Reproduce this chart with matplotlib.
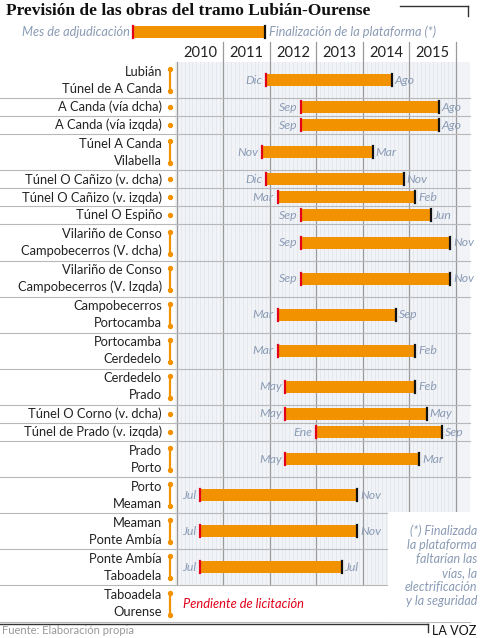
import matplotlib
matplotlib.use("Agg")
import matplotlib.pyplot as plt

labels = [("Lubián", "Túnel de A Canda"), ("A Canda (vía dcha)",), ("A Canda (vía izqda)",),
          ("Túnel A Canda", "Vilabella"), ("Túnel O Cañizo (v. dcha)",), ("Túnel O Cañizo (v. izqda)",),
          ("Túnel O Espiño",), ("Vilariño de Conso", "Campobecerros (V. dcha)"),
          ("Vilariño de Conso", "Campobecerros (V. Izqda)"), ("Campobecerros", "Portocamba"),
          ("Portocamba", "Cerdedelo"), ("Cerdedelo", "Prado"), ("Túnel O Corno (v. dcha)",),
          ("Túnel de Prado (v. izqda)",), ("Prado", "Porto"), ("Porto", "Meaman"),
          ("Meaman", "Ponte Ambía"), ("Ponte Ambía", "Taboadela"), ("Taboadela", "Ourense")]
start_year = [2011, 2012, 2012, 2011, 2011, 2012, 2012, 2012, 2012, 2012, 2012, 2012, 2012, 2013, 2012, 2010, 2010, 2010, None]
start_month = [12, 9, 9, 11, 12, 3, 9, 9, 9, 3, 3, 5, 5, 1, 5, 7, 7, 7, None]
end_year = [2014, 2015, 2015, 2014, 2014, 2015, 2015, 2015, 2015, 2014, 2015, 2015, 2015, 2015, 2015, 2013, 2013, 2013, None]
end_month = [8, 8, 8, 3, 11, 2, 6, 11, 11, 9, 2, 2, 5, 9, 3, 11, 11, 7, None]
years = [2010, 2011, 2012, 2013, 2014, 2015]
mnames = ["Ene", "Feb", "Mar", "Abr", "May", "Jun", "Jul", "Ago", "Sep", "Oct", "Nov", "Dic"]

ORANGE = "#f39200"; RED = "#e2001a"; GRAYTXT = "#8a9bb5"; LINE = "#b8b8b8"

fig = plt.figure(figsize=(4.8, 6.38), dpi=100)
ax = fig.add_axes([0, 0, 1, 1])
pxy = 46.5
ax.set_xlim(2010 - 177 / pxy, 2010 + (480 - 177) / pxy)
ax.set_ylim(638, 0)
ax.axis("off")
X = lambda px: 2010 + (px - 177) / pxy

top = 62; unit = 18.05
y = top
rows = []
for lab in labels:
    h = unit * (2 if len(lab) == 2 else 1)
    rows.append((y, y + h))
    y += h
grid_bottom = rows[-2][1]

ax.add_patch(plt.Rectangle((2010 - 0.05, top), 6.35, grid_bottom - top, color="#f1f3f6", zorder=0, lw=0))
for i in range(0, 6 * 12 + 1):
    x = 2010 + i / 12
    if i % 12 == 0:
        ax.plot([x, x], [top - 20 if i else top, grid_bottom], color="#9a9a9a", lw=0.9, zorder=1)
    else:
        ax.plot([x, x], [top, grid_bottom], color="#e1e6ee", lw=0.6, zorder=1)
for yr in years:
    ax.text(yr + 0.5, 53, str(yr), ha="center", va="center", fontsize=10.5, family="Lato", color="#222")

FS = 9.3
for i, (lab, (y0, y1)) in enumerate(zip(labels, rows)):
    yc = (y0 + y1) / 2
    ax.plot([ax.get_xlim()[0], 2016.3], [y1, y1], color=LINE, lw=0.8, zorder=2)
    if len(lab) == 2:
        ax.text(X(162), yc - 8.5, lab[0], ha="right", va="center", fontsize=FS, family="Lato", color="#222")
        ax.text(X(162), yc + 8.5, lab[1], ha="right", va="center", fontsize=FS, family="Lato", color="#222")
        ax.plot([X(170)] * 2, [yc - 11, yc + 11], color=ORANGE, lw=1.6)
        ax.plot([X(170)] * 2, [yc - 11, yc + 11], "o", color=ORANGE, ms=2.8)
    else:
        ax.text(X(162), yc, lab[0], ha="right", va="center", fontsize=FS, family="Lato", color="#222")
        ax.plot([X(170)], [yc], "o", color=ORANGE, ms=2.8)
    if start_year[i] is None:
        ax.text(X(183), yc, "Pendiente de licitación", ha="left", va="center", fontsize=9.3,
                family="Lato", style="italic", color=RED)
        continue
    xs = start_year[i] + (start_month[i] - 1) / 12
    xe = end_year[i] + (end_month[i] - 1) / 12 + 0.5 / 12
    ax.add_patch(plt.Rectangle((xs, yc - 6), xe - xs, 12, color=ORANGE, lw=0, zorder=3))
    ax.plot([xs, xs], [yc - 6, yc + 6], color=RED, lw=1.6, zorder=4)
    ax.plot([xe, xe], [yc - 6, yc + 6], color="#111", lw=1.6, zorder=4)
    ax.text(xs - 0.08, yc, mnames[start_month[i] - 1], ha="right", va="center", fontsize=8.8,
            family="Lato", style="italic", color=GRAYTXT, zorder=5)
    ax.text(xe + 0.06, yc, mnames[end_month[i] - 1], ha="left", va="center", fontsize=8.8,
            family="Lato", style="italic", color=GRAYTXT, zorder=5)

ax.add_patch(plt.Rectangle((X(388), 512), 3, 110, color="white", lw=0, zorder=6))
ax.text(X(477), 566, "(*) Finalizada\nla plataforma\nfaltarían las\nvías, la\nelectrificación\ny la seguridad",
        ha="right", va="center", fontsize=9, family="Lato", style="italic", color=GRAYTXT,
        linespacing=1.2, zorder=7)

ax.text(X(6), 11, "Previsión de las obras del tramo Lubián-Ourense", ha="left", va="center",
        fontsize=12.5, family="Liberation Serif", weight="bold", color="#111")
ax.plot([X(400), X(468)], [6, 6], color="#333", lw=1)
ax.plot([X(468), X(468)], [6, 16], color="#333", lw=1)
ls, le = X(133), X(265)
ax.add_patch(plt.Rectangle((ls, 26), le - ls, 12, color=ORANGE, lw=0))
ax.plot([ls, ls], [26, 38], color=RED, lw=1.6)
ax.plot([le, le], [26, 38], color="#111", lw=1.6)
ax.text(ls - 0.06, 32, "Mes de adjudicación", ha="right", va="center", fontsize=9.2, family="Lato",
        style="italic", color=GRAYTXT)
ax.text(le + 0.08, 32, "Finalización de la plataforma (*)", ha="left", va="center", fontsize=9.2,
        family="Lato", style="italic", color=GRAYTXT)

ax.plot([ax.get_xlim()[0], X(428)], [624, 624], color="#333", lw=1)
ax.plot([X(428), X(428)], [624, 632], color="#333", lw=1)
ax.text(X(2), 631, "Fuente: Elaboración propia", ha="left", va="center", fontsize=8,
        family="Lato", color="#999")
ax.text(X(476), 631, "LA VOZ", ha="right", va="center", fontsize=9, family="Lato", color="#111")

fig.savefig("out.png", dpi=100)
